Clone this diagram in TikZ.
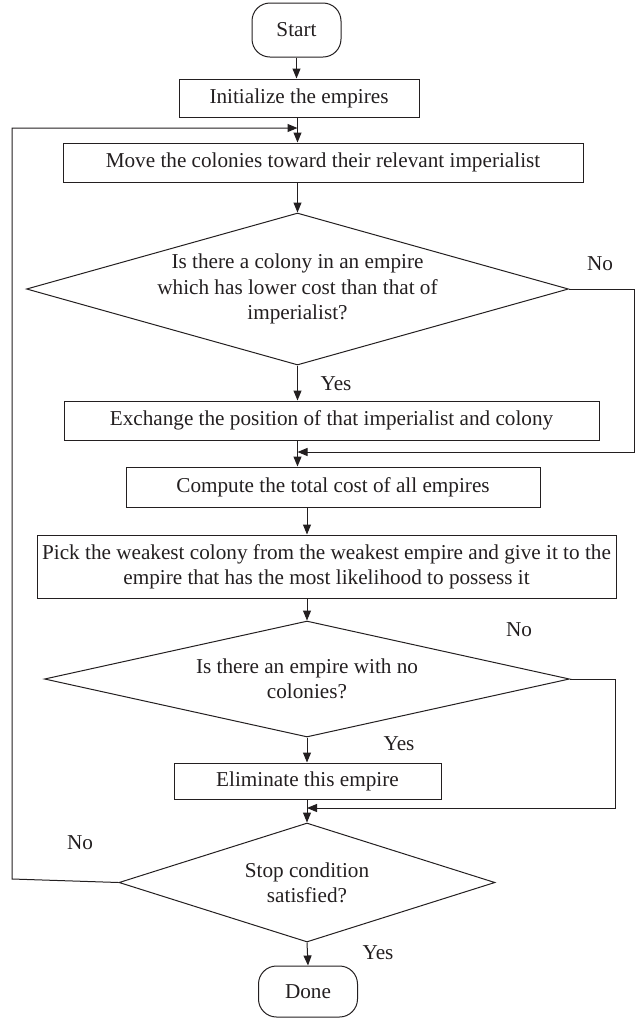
\documentclass[tikz,border=0pt]{standalone}
\usepackage{fontspec}
\setmainfont{Liberation Serif}
\usetikzlibrary{arrows.meta,shapes.geometric}
\definecolor{ink}{HTML}{231F20}

\begin{document}
\begin{tikzpicture}[x=0.5pt,y=-0.5pt, font=\fontsize{10.6}{12.6}\selectfont, color=ink, line width=0.5pt,
  term/.style={draw, rounded corners=9pt, inner sep=0pt},
  proc/.style={draw, inner sep=0pt, align=center},
  decide/.style={draw, diamond, inner sep=0pt},
  qtext/.style={align=center, inner sep=0pt},
  ans/.style={inner sep=0pt},
  flow/.style={-{Triangle[length=5pt,width=4pt]}},
]
\useasboundingbox (0,0) rectangle (635,1019);
% ---- flow axes and joins ----
\coordinate (ax) at (297.5,0);
\coordinate (bx) at (307,0);
\coordinate (j0) at (297.5,128);
\coordinate (j1) at (297.5,452);
\coordinate (j2) at (307,808);
\coordinate (lx) at (12,879);
\coordinate (rx1) at (634,0);
\coordinate (rx2) at (615,0);
% ---- steps ----
\node[term, minimum width=44.5pt, minimum height=27pt] (start) at (296.5,30){Start};
\node[proc, minimum width=120pt, minimum height=19pt] (init) at (299,98){Initialize the empires};
\node[proc, minimum width=260pt, minimum height=19.5pt] (move) at (323,162.5){Move the colonies toward their relevant imperialist};
\node[decide, minimum width=271pt, minimum height=76pt,
  label={[qtext]center:{Is there a colony in an empire\\which has lower cost than that of\\imperialist?}}] (d1) at (297.5,289){};
\node[proc, minimum width=267.5pt, minimum height=19.5pt] (exch) at (331.5,420.5){Exchange the position of that imperialist and colony};
\node[proc, minimum width=207pt, minimum height=20pt] (comp) at (333,487){Compute the total cost of all empires};
\node[proc, minimum width=289.5pt, minimum height=31.5pt] (pick) at (326.5,566.5){Pick the weakest colony from the weakest empire and give it to the\\empire that has the most likelihood to possess it};
\node[decide, minimum width=262.5pt, minimum height=58pt,
  label={[qtext]center:{Is there an empire with no\\colonies?}}] (d2) at (307,679){};
\node[proc, minimum width=133.5pt, minimum height=18pt] (elim) at (307.5,781){Eliminate this empire};
\node[decide, minimum width=188pt, minimum height=59.5pt,
  label={[qtext]center:{Stop condition\\satisfied?}}] (d3) at (307,882.5){};
\node[term, minimum width=49.5pt, minimum height=25.5pt] (done) at (308,991.5){Done};
% ---- answers ----
\node[ans] (no1) at (600,264){No};
\node[ans] (yes1) at (336,384){Yes};
\node[ans] (no2) at (519,630){No};
\node[ans] (yes2) at (399,744){Yes};
\node[ans] (no3) at (80,843){No};
\node[ans] (yes3) at (378,953){Yes};
% ---- connectors ----
\draw[flow] (start.south) -- (start.south |- init.north);
\draw[flow] (init.south -| ax) -- (move.north -| ax);
\draw[flow] (move.south -| ax) -- (d1.north);
\draw[flow] (d1.south) -- (exch.north -| d1);
\draw[flow] (exch.south -| ax) -- (comp.north -| ax);
\draw[flow] (comp.south -| bx) -- (pick.north -| bx);
\draw[flow] (pick.south -| bx) -- (d2.north);
\draw[flow] (d2.south) -- (elim.north -| d2);
\draw[flow] (elim.south -| bx) -- (d3.north);
\draw[flow] (d3.south) -- (done.north);
% loops back
\draw[flow] (d1.east) -- (d1.east -| rx1) |- (j1);
\draw[flow] (d2.east) -- (d2.east -| rx2) |- (j2);
\draw[flow] (d3.west) -- (lx) |- (j0);
\end{tikzpicture}
\end{document}
